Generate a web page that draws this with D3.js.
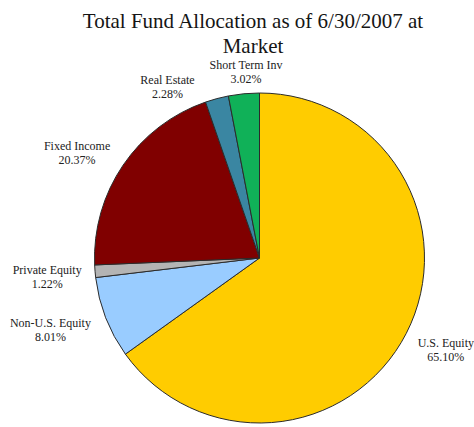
<!DOCTYPE html>
<html>
<head>
<meta charset="utf-8">
<script src="https://cdn.jsdelivr.net/npm/d3@7"></script>
<style>
  html, body { margin: 0; padding: 0; background: #fff; }
  svg { display: block; }
  text { font-family: "Liberation Serif", "Times New Roman", serif; fill: #222; }
</style>
</head>
<body>
<svg id="chart" width="474" height="427"></svg>
<script>
// Allocation categories, clockwise from 12 o'clock
const categories = ["U.S. Equity", "Non-U.S. Equity", "Private Equity", "Fixed Income", "Real Estate", "Short Term Inv"];
const values = [65.10, 8.01, 1.22, 20.37, 2.28, 3.02];
const colors = ["#ffcc00", "#99ccff", "#b4b4b4", "#800000", "#3a86a2", "#10b158"];

const titleLines = ["Total Fund Allocation as of 6/30/2007 at", "Market"];

// Label nudges relative to the radial anchor point (layout only)
const labelNudge = [[4, -2], [-18, -2], [-8, 3], [-13, 10], [-39, 27], [6, 18]];

const width = 474, height = 427;
const cx = 259.5, cy = 258, radius = 165, labelRadius = 205;

const svg = d3.select("#chart");

// Title
svg.append("g").selectAll("text")
  .data(titleLines)
  .join("text")
  .attr("x", 253)
  .attr("y", (d, i) => 28 + i * 25)
  .attr("text-anchor", "middle")
  .style("font-size", "21px")
  .style("fill", "#151515")
  .text(d => d);

const data = categories.map((c, i) => ({ name: c, value: values[i], color: colors[i] }));

const pie = d3.pie().sort(null).value(d => d.value).startAngle(0).endAngle(2 * Math.PI);
const arcs = pie(data);

const arc = d3.arc().innerRadius(0).outerRadius(radius);
const labelArc = d3.arc().innerRadius(labelRadius).outerRadius(labelRadius);

const g = svg.append("g").attr("transform", `translate(${cx},${cy})`);

g.selectAll("path")
  .data(arcs)
  .join("path")
  .attr("d", arc)
  .attr("fill", d => d.data.color)
  .attr("stroke", "#2b2b2b")
  .attr("stroke-width", 1)
  .attr("stroke-linejoin", "round");

const labels = g.selectAll("g.label")
  .data(arcs)
  .join("g")
  .attr("class", "label")
  .attr("transform", (d, i) => {
    const [x, y] = labelArc.centroid(d);
    return `translate(${x + labelNudge[i][0]},${y + labelNudge[i][1]})`;
  });

labels.append("text")
  .attr("text-anchor", "middle")
  .attr("y", -3)
  .style("font-size", "12px")
  .text(d => d.data.name);

labels.append("text")
  .attr("text-anchor", "middle")
  .attr("y", 11)
  .style("font-size", "12px")
  .text(d => d.data.value.toFixed(2) + "%");
</script>
</body>
</html>
